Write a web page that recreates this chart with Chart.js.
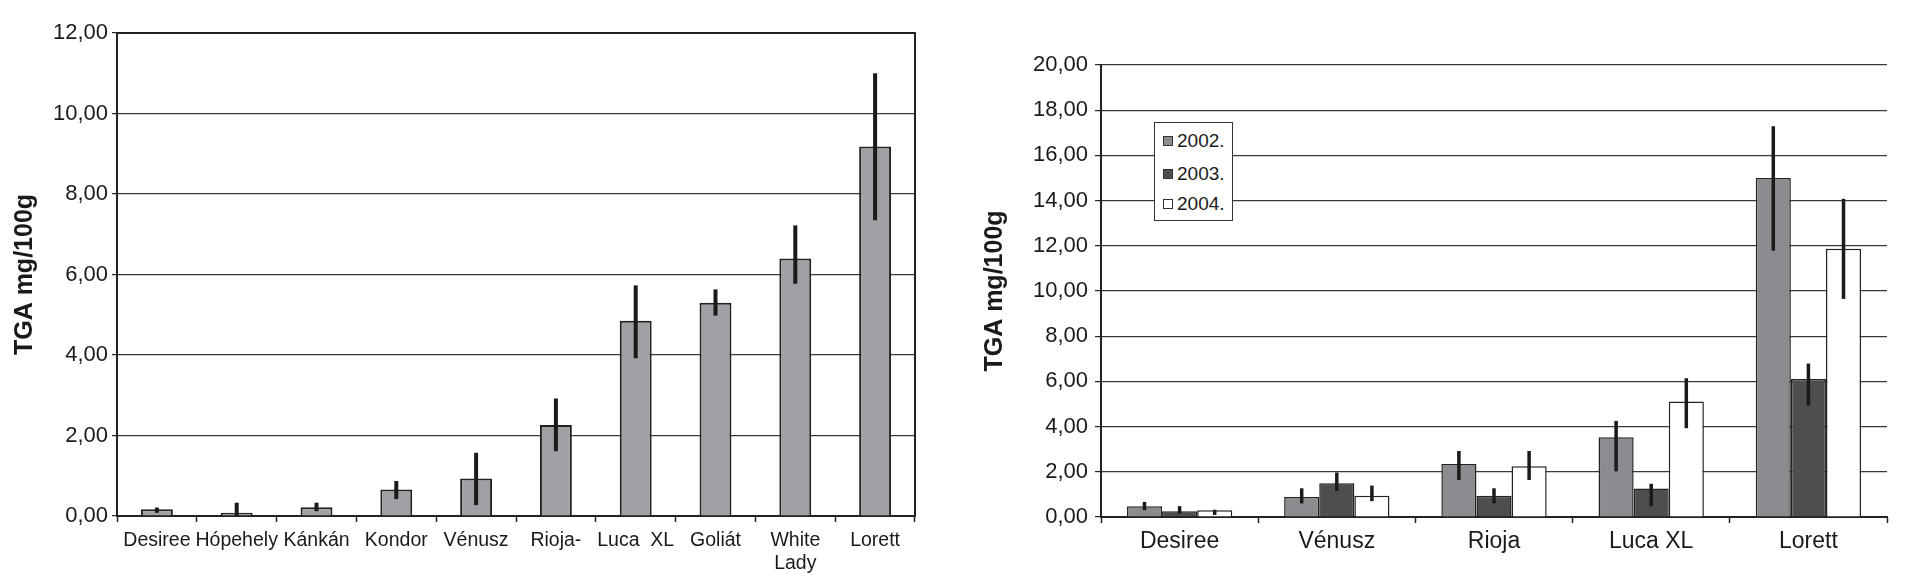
<!DOCTYPE html>
<html>
<head>
<meta charset="utf-8">
<script src="https://cdn.jsdelivr.net/npm/chart.js@4/dist/chart.umd.min.js"></script>
<style>
  body { margin: 0; background: #fff; width: 1908px; height: 576px; position: relative; overflow: hidden; }
  canvas { position: absolute; top: 0; }
  #legend { position: absolute; left: 1154px; top: 122px; width: 77px; height: 97px; border: 1px solid #333; background: #fff;
            font-family: "Liberation Sans", Arial, sans-serif; font-size: 19px; color: #1a1a1a; }
  #legend div { position: absolute; left: 8px; height: 22px; line-height: 22px; }
  #legend span { display: inline-block; width: 8px; height: 8px; border: 1px solid #333; margin-right: 4px; vertical-align: 1px; }
</style>
</head>
<body>
<canvas id="left" width="940" height="576" style="left:0"></canvas>
<canvas id="right" width="948" height="576" style="left:960px"></canvas>
<div id="legend"></div>
<script>
// chart 1 - single year
const cultivars = ['Desiree', 'Hópehely', 'Kánkán', 'Kondor', 'Vénusz', 'Rioja-', 'Luca  XL', 'Goliát', ['White', 'Lady'], 'Lorett'];
const tgaMean = [0.17, 0.08, 0.22, 0.66, 0.93, 2.26, 4.85, 5.30, 6.40, 9.18];
const tgaLow = [0.08, 0.00, 0.12, 0.42, 0.27, 1.61, 3.92, 4.98, 5.77, 7.35];
const tgaHigh = [0.21, 0.33, 0.33, 0.87, 1.57, 2.92, 5.73, 5.63, 7.22, 11.00];

// chart 2 - three years
const varieties = ['Desiree', 'Vénusz', 'Rioja', 'Luca XL', 'Lorett'];
const years = ['2002.', '2003.', '2004.'];
const mean2002 = [0.48, 0.89, 2.34, 3.53, 15.00];
const low2002 = [0.30, 0.60, 1.64, 2.02, 11.78];
const high2002 = [0.67, 1.27, 2.92, 4.25, 17.29];
const mean2003 = [0.25, 1.49, 0.94, 1.26, 6.11];
const low2003 = [0.15, 1.15, 0.60, 0.48, 4.93];
const high2003 = [0.48, 1.97, 1.27, 1.47, 6.79];
const mean2004 = [0.30, 0.94, 2.25, 5.11, 11.87];
const low2004 = [0.09, 0.70, 1.64, 3.93, 9.65];
const high2004 = [0.32, 1.39, 2.92, 6.14, 14.08];

const yearColors = ['#8b8c90', '#4d4e50', '#ffffff'];
const FONT = '"Liberation Sans", Arial, sans-serif';
const INK = '#1a1a1a';

const errorBars = {
  id: 'errorBars',
  afterDatasetsDraw(chart, args, opts) {
    const ctx = chart.ctx;
    const y = chart.scales.y;
    ctx.save();
    ctx.strokeStyle = opts.color;
    ctx.lineWidth = opts.width;
    chart.data.datasets.forEach((ds, i) => {
      const meta = chart.getDatasetMeta(i);
      meta.data.forEach((bar, j) => {
        ctx.beginPath();
        ctx.moveTo(bar.x, y.getPixelForValue(ds.errLow[j]));
        ctx.lineTo(bar.x, y.getPixelForValue(ds.errHigh[j]));
        ctx.stroke();
      });
    });
    ctx.restore();
  }
};

const frame = {
  id: 'frame',
  afterDraw(chart, args, opts) {
    if (!opts.on) return;
    const a = chart.chartArea;
    const ctx = chart.ctx;
    ctx.save();
    ctx.strokeStyle = '#222';
    ctx.lineWidth = 2;
    ctx.beginPath();
    ctx.moveTo(a.left, a.top);
    ctx.lineTo(a.right, a.top);
    ctx.lineTo(a.right, a.bottom);
    ctx.stroke();
    ctx.restore();
  }
};

function commaFmt(v) {
  return Number(v).toFixed(2).replace('.', ',');
}

function makeOptions(cfg) {
  return {
    responsive: false,
    animation: false,
    devicePixelRatio: 1,
    layout: { padding: cfg.padding },
    plugins: {
      legend: { display: false },
      tooltip: { enabled: false },
      errorBars: { color: INK, width: cfg.errWidth },
      frame: { on: cfg.frame }
    },
    scales: {
      x: {
        grid: { display: true, drawOnChartArea: false, drawTicks: true, tickLength: 6, tickColor: '#222', tickWidth: 1.5, offset: true },
        border: { display: true, color: '#222', width: 2 },
        ticks: { color: INK, font: { family: FONT, size: cfg.xFont }, padding: cfg.xPad, maxRotation: 0, autoSkip: false },
        afterFit: s => { s.height = cfg.xHeight; }
      },
      y: {
        min: 0,
        max: cfg.yMax,
        grid: { color: '#3a3a3a', lineWidth: 1.2, tickLength: cfg.yTick, tickColor: '#222' },
        border: { display: true, color: '#222', width: 2 },
        ticks: { stepSize: 2, color: INK, font: { family: FONT, size: 22 }, padding: cfg.yPad, callback: commaFmt },
        title: { display: true, text: 'TGA mg/100g', color: INK, font: { family: FONT, size: 25, weight: 'bold' }, padding: { top: cfg.titlePad, bottom: 0 } },
        afterFit: s => { s.width = cfg.yWidth; }
      }
    }
  };
}

new Chart(document.getElementById('left').getContext('2d'), {
  type: 'bar',
  data: {
    labels: cultivars,
    datasets: [{
      label: 'TGA',
      data: tgaMean,
      errLow: tgaLow,
      errHigh: tgaHigh,
      backgroundColor: '#a0a1a5',
      borderColor: '#222',
      borderWidth: 2,
      categoryPercentage: 0.4,
      barPercentage: 1
    }]
  },
  options: makeOptions({ padding: { top: 33, right: 25 }, yMax: 12, yWidth: 117, xHeight: 60, xFont: 19.5, xPad: 7,
                         yTick: 5, yPad: 4, titlePad: 10, errWidth: 4, frame: true }),
  plugins: [errorBars, frame]
});

const yearMeans = [mean2002, mean2003, mean2004];
const yearLows = [low2002, low2003, low2004];
const yearHighs = [high2002, high2003, high2004];

new Chart(document.getElementById('right').getContext('2d'), {
  type: 'bar',
  data: {
    labels: varieties,
    datasets: years.map((yr, i) => ({
      label: yr,
      data: yearMeans[i],
      errLow: yearLows[i],
      errHigh: yearHighs[i],
      backgroundColor: yearColors[i],
      borderColor: '#222',
      borderWidth: 1.5,
      categoryPercentage: 0.67,
      barPercentage: 1
    }))
  },
  options: makeOptions({ padding: { top: 65, right: 21 }, yMax: 20, yWidth: 141, xHeight: 59, xFont: 23, xPad: 5,
                         yTick: 6, yPad: 7, titlePad: 20, errWidth: 3.5, frame: false }),
  plugins: [errorBars, frame]
});

// legend box inside the second chart
const legend = document.getElementById('legend');
const rowTops = [7, 40, 70];
years.forEach((yr, i) => {
  const row = document.createElement('div');
  row.style.top = rowTops[i] + 'px';
  row.innerHTML = '<span style="background:' + yearColors[i] + '"></span>' + yr;
  legend.appendChild(row);
});
</script>
</body>
</html>
